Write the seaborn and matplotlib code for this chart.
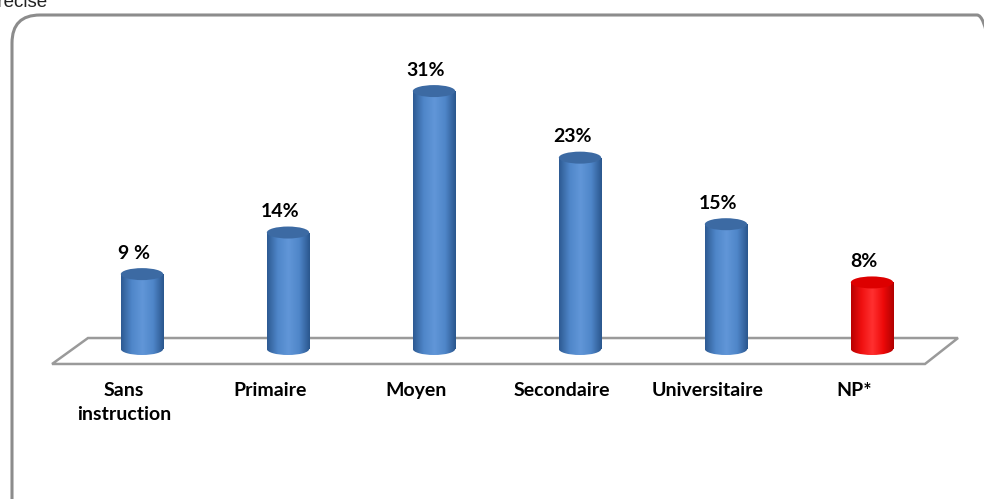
import numpy as np
import pandas as pd
import matplotlib
matplotlib.use("Agg")
import matplotlib.pyplot as plt
import matplotlib.transforms as mtransforms
from matplotlib.patches import Ellipse, FancyBboxPatch, Polygon
from matplotlib.colors import LinearSegmentedColormap
import seaborn as sns

# ---- data ----
categories = ["Sans\ninstruction", "Primaire", "Moyen", "Secondaire", "Universitaire", "NP*"]
values = [9, 14, 31, 23, 15, 8]
value_labels = ["9 %", "14%", "31%", "23%", "15%", "8%"]
kinds = ["known", "known", "known", "known", "known", "unknown"]

sns.set_theme(style="white")
plt.rcParams["font.family"] = ["Lato", "DejaVu Sans"]

W, H = 984, 499
fig = plt.figure(figsize=(W / 100, H / 100), dpi=100)
fig.patch.set_facecolor("white")

# rounded frame (pixel coordinates, origin bottom-left)
frame = FancyBboxPatch((12, -40), 1005 - 12, (499 - 15) + 40,
                       boxstyle="round,pad=0,rounding_size=28",
                       transform=mtransforms.IdentityTransform(), facecolor="none",
                       edgecolor="#8c8c8c", linewidth=2.2, zorder=0)
fig.patches.append(frame)
fig.text(48 / W, 1 - 7 / H, "précise", ha="right", va="baseline",
         fontsize=13.5, family="Liberation Sans", color="#222222")

ax = fig.add_axes([0, 0, 1, 1])
ax.set_facecolor("none")

df = pd.DataFrame({"cat": categories, "val": values, "kind": kinds})
palette = {"known": "#4a7fc0", "unknown": "#ee0000"}
bw = 0.29
sns.barplot(data=df, x="cat", y="val", hue="kind", palette=palette, dodge=False,
            width=bw, legend=False, ax=ax, zorder=3, linewidth=0)

px_per_unit = 8.32
base_px = 499 - 349
ax.set_xlim(-142 / 146, (W - 142) / 146)
ax.set_ylim(-base_px / px_per_unit, (H - base_px) / px_per_unit)

ell_h = 12 / px_per_unit

cmaps = {
    "known": LinearSegmentedColormap.from_list("b", ["#2d5a92", "#4f86c9", "#6196d8", "#4f86c9", "#2a568d"]),
    "unknown": LinearSegmentedColormap.from_list("r", ["#b80000", "#f01010", "#ff3030", "#ee0a0a", "#b00000"]),
}
tops = {"known": "#3c6aa3", "unknown": "#dd0000"}

grad = np.linspace(0, 1, 256).reshape(1, -1)
patches = [p for p in ax.patches if p.get_height() > 0]
patches.sort(key=lambda p: p.get_x())
for p, kind, lab in zip(patches, kinds, value_labels):
    x0 = p.get_x()
    w = p.get_width()
    h = p.get_height()
    xc = x0 + w / 2
    cm = cmaps[kind]
    e_bot = Ellipse((xc, 0), w, ell_h, facecolor="none", edgecolor="none", zorder=3)
    ax.add_patch(e_bot)
    im1 = ax.imshow(grad, cmap=cm, extent=(x0, x0 + w, -ell_h, h), aspect="auto",
                    zorder=3, interpolation="bilinear")
    im1.set_clip_path(e_bot)
    p.set_facecolor("none")
    im2 = ax.imshow(grad, cmap=cm, extent=(x0, x0 + w, 0, h), aspect="auto",
                    zorder=4, interpolation="bilinear")
    im2.set_clip_path(p)
    e_top = Ellipse((xc, h), w, ell_h, facecolor=tops[kind], edgecolor="none", zorder=5)
    ax.add_patch(e_top)
    ax.text(xc - 8 / 146, h + 2.5, lab, ha="center", va="center",
            fontsize=14, fontweight="bold", color="black", zorder=6)

# floor (3D base)
floor = Polygon([(-0.616, -1.8), (5.363, -1.8), (5.589, 1.32), (-0.37, 1.32)],
                closed=True, facecolor="white", edgecolor="#9a9a9a", linewidth=1.8, zorder=2)
ax.add_patch(floor)

ax.set_xlabel("")
ax.set_ylabel("")
ax.set_yticks([])
ax.tick_params(axis="x", length=0, pad=0)
ax.set_xticks(range(len(categories)))
ax.set_xticklabels(categories, fontsize=14, fontweight="bold", color="black",
                   linespacing=1.5, va="top")
for t in ax.get_xticklabels():
    t.set_transform(ax.get_xaxis_transform() + mtransforms.ScaledTranslation(-18 / 100, 0, fig.dpi_scale_trans))
    t.set_y(1 - 382 / H)
for s in ax.spines.values():
    s.set_visible(False)

fig.savefig("out.png", dpi=100, facecolor="white")
